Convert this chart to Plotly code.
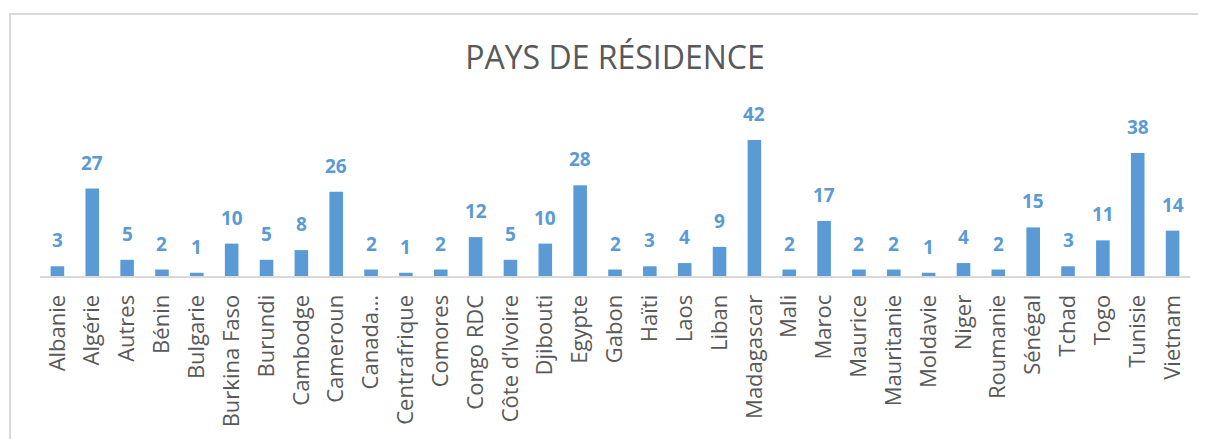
import plotly.graph_objects as go

categories = ["Albanie", "Algérie", "Autres", "Bénin", "Bulgarie", "Burkina Faso", "Burundi",
              "Cambodge", "Cameroun", "Canada…", "Centrafrique", "Comores", "Congo RDC",
              "Côte d’Ivoire", "Djibouti", "Egypte", "Gabon", "Haïti", "Laos", "Liban",
              "Madagascar", "Mali", "Maroc", "Maurice", "Mauritanie", "Moldavie", "Niger",
              "Roumanie", "Sénégal", "Tchad", "Togo", "Tunisie", "Vietnam"]
values = [3, 27, 5, 2, 1, 10, 5, 8, 26, 2, 1, 2, 12, 5, 10, 28, 2, 3, 4, 9, 42, 2, 17, 2, 2, 1,
          4, 2, 15, 3, 11, 38, 14]
title_text = "PAYS DE RÉSIDENCE"

BLUE = "#5B9BD5"
GRAY = "#595959"

# page body has an 8px margin; positions below are in figure pixels
OFF = 8
L, R, T, B = 40 - OFF, 1206 - (1190 - OFF), 114 - OFF, 439 - (276 - OFF)
PW = 1206 - L - R
PH = 439 - T - B

fig = go.Figure()
fig.add_trace(go.Bar(x=categories, y=values, marker=dict(color=BLUE, line=dict(width=0)),
                     hoverinfo="x+y"))

for c, v in zip(categories, values):
    fig.add_annotation(x=c, y=v, text=f"<b>{v}</b>", showarrow=False, yanchor="bottom",
                       yshift=11, font=dict(family="Open Sans", size=19, color=BLUE))

fig.update_layout(
    width=1206, height=439,
    margin=dict(l=L, r=R, t=T, b=B, autoexpand=False),
    paper_bgcolor="white", plot_bgcolor="white",
    showlegend=False, bargap=0.61,
    title=dict(text=title_text, x=(615 - OFF) / 1206, xanchor="center",
               y=1 - (58 - OFF) / 439, yanchor="middle",
               font=dict(family="Open Sans", size=32, color=GRAY)),
    xaxis=dict(tickangle=-90, tickfont=dict(family="Open Sans", size=22, color=GRAY),
               showline=True, linecolor="#D9D9D9", linewidth=2, ticks="", showgrid=False,
               ticklabelstandoff=8, automargin=False),
    yaxis=dict(range=[0, 50], visible=False, showgrid=False, zeroline=False, automargin=False),
    shapes=[dict(type="rect", xref="paper", yref="paper",
                 x0=(10 - 40) / PW, x1=1.2, y0=-2, y1=(276 - 14) / PH,
                 line=dict(color="#D9D9D9", width=2), layer="below")],
)

fig.write_html("out.html")
